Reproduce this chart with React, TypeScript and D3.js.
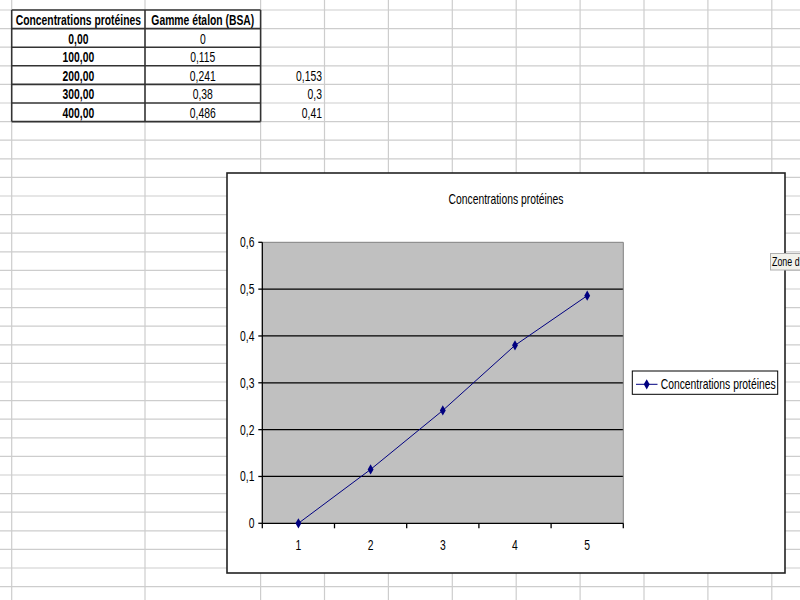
import React from "react";
import * as d3 from "d3";

// Spreadsheet data
const concentrations = [0, 100, 200, 300, 400];
const gammeEtalon = [0, 0.115, 0.241, 0.38, 0.486];
const extraColumn: (number | null)[] = [null, null, 0.153, 0.3, 0.41];
const headers = ["Concentrations protéines", "Gamme étalon (BSA)"];

// Chart data
const chartTitle = "Concentrations protéines";
const seriesName = "Concentrations protéines";
const categories = [1, 2, 3, 4, 5];
const yTicks = [0, 0.1, 0.2, 0.3, 0.4, 0.5, 0.6];

const FONT = "'Liberation Sans', Arial, sans-serif";
const SX = 0.74; // narrow glyph look

const fr = d3.formatLocale({ decimal: ",", thousands: " ", grouping: [3], currency: ["", " €"] });
const fmt2 = fr.format(".2f");
const fmtGeneral = (v: number) => String(v).replace(".", ",");
const fmtTick = (v: number) => (v === 0 ? "0" : fr.format(".1f")(v));

function T({
  x, y, anchor = "start", size = 14, weight = "normal", fill = "#000", children,
}: {
  x: number; y: number; anchor?: string; size?: number; weight?: string; fill?: string; children: React.ReactNode;
}) {
  return (
    <text
      transform={`translate(${x},${y}) scale(${SX},1)`}
      textAnchor={anchor as any}
      fontSize={size}
      fontWeight={weight}
      fontFamily={FONT}
      fill={fill}
    >
      {children}
    </text>
  );
}

export default function App() {
  const W = 800, H = 600;

  // sheet grid
  const rowH = 18.6;
  const row0 = 10;
  const rowLines = d3.range(0, 32).map((k) => row0 + rowH * k);
  const colLines = [11.7, 145, ...d3.range(0, 9).map((k) => 260.6 + 63.9 * k)];

  // table
  const tLeft = 11.7, tMid = 145, tRight = 260.6, cRight = 322;
  const tTop = row0, tBottom = row0 + rowH * (concentrations.length + 1);

  // chart box
  const box = { x: 227, y: 173, w: 558, h: 400 };
  const plot = { left: 262.3, right: 623.3, top: 242.3, bottom: 523.3 };

  const x = d3.scaleBand<number>().domain(categories).range([plot.left, plot.right]).padding(0);
  const y = d3.scaleLinear().domain([0, 0.6]).range([plot.bottom, plot.top]);

  const line = d3
    .line<number>()
    .x((_, i) => x(categories[i])! + x.bandwidth() / 2)
    .y((d) => y(d));
  const diamond = d3.symbol().type(d3.symbolDiamond).size(30)()!;

  const xBounds = [...categories.map((c) => x(c)!), plot.right];

  return (
    <svg
      width={W}
      height={H}
      style={{ position: "absolute", left: 0, top: 0, display: "block", background: "#fff" }}
    >
      <rect x={0} y={0} width={W} height={H} fill="#fff" />
      {/* sheet gridlines */}
      <g stroke="#cdcdcd" strokeWidth={1.2}>
        {rowLines.map((ry, i) => (
          <line key={"r" + i} x1={0} x2={W} y1={ry} y2={ry} />
        ))}
        {colLines.map((cx, i) => (
          <line key={"c" + i} x1={cx} x2={cx} y1={0} y2={H} />
        ))}
      </g>

      {/* table */}
      <g>
        <rect x={tLeft} y={tTop} width={tRight - tLeft} height={tBottom - tTop} fill="#fff" />
        <T x={(tLeft + tMid) / 2} y={tTop + 15} anchor="middle" weight="bold">{headers[0]}</T>
        <T x={(tMid + tRight) / 2} y={tTop + 15} anchor="middle" weight="bold">{headers[1]}</T>
        {concentrations.map((c, i) => {
          const ry = tTop + rowH * (i + 1);
          return (
            <g key={i}>
              <T x={(tLeft + tMid) / 2} y={ry + 15} anchor="middle" weight="bold">{fmt2(c)}</T>
              <T x={(tMid + tRight) / 2} y={ry + 15} anchor="middle">{fmtGeneral(gammeEtalon[i])}</T>
              {extraColumn[i] != null && (
                <T x={cRight} y={ry + 15} anchor="end">{fmtGeneral(extraColumn[i] as number)}</T>
              )}
            </g>
          );
        })}
        <g stroke="#333" strokeWidth={1.6} fill="none">
          {d3.range(0, concentrations.length + 2).map((k) => (
            <line key={k} x1={tLeft} x2={tRight} y1={tTop + rowH * k} y2={tTop + rowH * k} />
          ))}
          {[tLeft, tMid, tRight].map((cx, i) => (
            <line key={"v" + i} x1={cx} x2={cx} y1={tTop} y2={tBottom} />
          ))}
        </g>
      </g>

      {/* chart */}
      <g>
        <rect x={box.x} y={box.y} width={box.w} height={box.h} fill="#fff" stroke="#222" strokeWidth={1.6} />
        <T x={506} y={204}>
          <tspan textAnchor="middle">{chartTitle}</tspan>
        </T>

        <rect
          x={plot.left}
          y={plot.top}
          width={plot.right - plot.left}
          height={plot.bottom - plot.top}
          fill="#c0c0c0"
        />
        <g stroke="#000" strokeWidth={1.3}>
          {yTicks.filter((t) => t > 0 && t < 0.6).map((t) => (
            <line key={t} x1={plot.left} x2={plot.right} y1={y(t)} y2={y(t)} />
          ))}
        </g>
        <path
          d={`M${plot.left},${plot.top}H${plot.right}V${plot.bottom}`}
          fill="none"
          stroke="#808080"
          strokeWidth={1}
        />

        {/* y axis */}
        <g stroke="#000" strokeWidth={1.3}>
          <line x1={plot.left} x2={plot.left} y1={plot.top} y2={plot.bottom} />
          {yTicks.map((t) => (
            <line key={t} x1={plot.left - 4} x2={plot.left} y1={y(t)} y2={y(t)} />
          ))}
        </g>
        {yTicks.map((t) => (
          <T key={t} x={254.5} y={y(t) + 5} anchor="end">{fmtTick(t)}</T>
        ))}

        {/* x axis */}
        <g stroke="#000" strokeWidth={1.3}>
          <line x1={plot.left} x2={plot.right} y1={plot.bottom} y2={plot.bottom} />
          {xBounds.map((bx, i) => (
            <line key={i} x1={bx} x2={bx} y1={plot.bottom} y2={plot.bottom + 5} />
          ))}
        </g>
        {categories.map((c) => (
          <T key={c} x={x(c)! + x.bandwidth() / 2} y={550} anchor="middle">{String(c)}</T>
        ))}

        {/* series */}
        <path d={line(gammeEtalon)!} fill="none" stroke="#000080" strokeWidth={1} />
        {gammeEtalon.map((v, i) => (
          <path
            key={i}
            d={diamond}
            transform={`translate(${x(categories[i])! + x.bandwidth() / 2},${y(v)})`}
            fill="#000080"
          />
        ))}

        {/* legend */}
        <rect x={632.3} y={371} width={145.4} height={23.3} fill="#fff" stroke="#000" strokeWidth={1} />
        <line x1={636} x2={657.5} y1={384.3} y2={384.3} stroke="#000080" strokeWidth={1} />
        <path d={diamond} transform="translate(646.7,384.3)" fill="#000080" />
        <T x={660.7} y={389} anchor="start">{seriesName}</T>
      </g>

      {/* hover tip */}
      <g>
        <rect x={770.5} y={253.5} width={40} height={16.5} fill="#f2f2ec" stroke="#b0b0b0" strokeWidth={1} />
        <T x={772} y={266} size={12}>Zone d</T>
      </g>
    </svg>
  );
}
